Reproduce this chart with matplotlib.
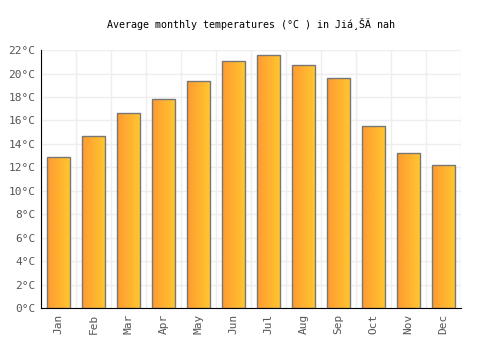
import numpy as np
import matplotlib.pyplot as plt
from matplotlib.colors import LinearSegmentedColormap

months = ["Jan", "Feb", "Mar", "Apr", "May", "Jun", "Jul", "Aug", "Sep", "Oct", "Nov", "Dec"]
temps = [12.9, 14.7, 16.6, 17.8, 19.4, 21.1, 21.6, 20.7, 19.6, 15.5, 13.2, 12.2]
yticks = list(range(0, 23, 2))

plt.rcParams['font.family'] = ['DejaVu Sans Mono']

fig = plt.figure(figsize=(5, 3.5), dpi=100)
ax = fig.add_axes([0.082, 0.12, 0.84, 0.737])

x = np.arange(len(months))
bars = ax.bar(x, temps, width=0.68, color='none', edgecolor='#777777', linewidth=1.0, zorder=3)

cmap = LinearSegmentedColormap.from_list("og", ["#ff9a30", "#ffc830"])
grad = np.linspace(0, 1, 64).reshape(1, -1)
for b in bars:
    bx, bw, bh = b.get_x(), b.get_width(), b.get_height()
    im = ax.imshow(grad, cmap=cmap, aspect='auto', extent=[bx, bx + bw, 0, bh], zorder=2)
    im.set_clip_path(b)

ax.set_xlim(-0.5, len(months) - 0.5)
ax.set_ylim(0, 22)
ax.set_xticks(x)
ax.set_xticklabels(months, rotation=90, fontsize=8, color='#555555')
ax.set_yticks(yticks)
ax.set_yticklabels([f"{t}°C" for t in yticks], fontsize=8, color='#555555')
ax.set_xticks(np.arange(-0.5, len(months), 1), minor=True)
ax.grid(True, which='major', axis='y', color='#eeeeee', linewidth=1, zorder=0)
ax.grid(True, which='minor', axis='x', color='#eeeeee', linewidth=1, zorder=0)
ax.tick_params(axis='both', which='both', length=0, pad=4)

for s in ['top', 'right']:
    ax.spines[s].set_visible(False)
ax.spines['left'].set_color('black')
ax.spines['bottom'].set_color('black')

ax.set_title("Average monthly temperatures (°C ) in Jiá¸ŠÄ nah", fontsize=7.2, pad=16)

fig.savefig("out.png")
